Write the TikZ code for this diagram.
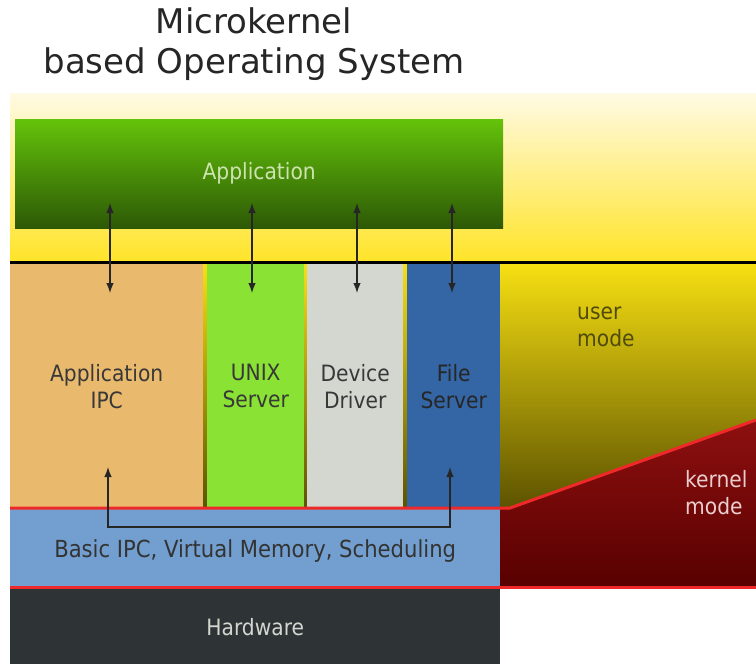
\documentclass[tikz,border=0pt]{standalone}
\usepackage{fontspec}
\setmainfont{DejaVu Sans}
\newfontfamily\cond{DejaVu Sans Condensed}
\usetikzlibrary{arrows.meta}
\definecolor{tan}{HTML}{E9B96E}
\definecolor{lgreen}{HTML}{8AE234}
\definecolor{lgray}{HTML}{D3D7CF}
\definecolor{fblue}{HTML}{3465A4}
\definecolor{kblue}{HTML}{729FCF}
\definecolor{hw}{HTML}{2E3436}
\definecolor{redline}{HTML}{EF2929}
\definecolor{pale}{RGB}{255,250,228}
\definecolor{yel}{RGB}{255,228,40}
\definecolor{yel2}{RGB}{247,224,18}
\definecolor{olive}{RGB}{92,82,0}
\definecolor{kred1}{RGB}{142,16,16}
\definecolor{kred2}{RGB}{88,0,0}
\definecolor{appg1}{RGB}{100,195,10}
\definecolor{appg2}{RGB}{45,88,6}
\begin{document}
\begin{tikzpicture}[x=1pt,y=-1pt,
  lbl/.style={font=\cond\fontsize{22.5}{27}\selectfont,align=center,text=black!78},
  col/.style={draw=none,anchor=north west,minimum height=244,inner sep=0pt,lbl},
  arr/.style={{Latex[length=10pt,width=7.5pt]}-{Latex[length=10pt,width=7.5pt]},line width=1.3pt,draw=black!85},
  redl/.style={draw=redline,line width=3pt}]
\useasboundingbox (0,0) rectangle (756,664);
% title
\node[font=\fontsize{34}{40}\selectfont,align=center,text=black!85] (title) at (254,44) {Microkernel\\based Operating System};
% backgrounds
\fill[top color=pale,bottom color=yel] (10,93) rectangle (756,262);
\fill[top color=yel2,bottom color=olive] (10,263) rectangle (756,509);
\fill[top color=kred1,bottom color=kred2] (500,508) -- (510,508) -- (756,420) -- (756,587) -- (500,587) -- cycle;
% application box
\node[anchor=north west,minimum width=488,minimum height=109,inner sep=0pt,top color=appg1,bottom color=appg2,
  font=\cond\fontsize{22.5}{27}\selectfont,text={rgb,255:red,205;green,228;blue,175}] (app) at (15,119) {\raisebox{3pt}{Application}};
% separator line
\draw[line width=3pt,black] (10,262) -- (756,262);
% columns
\node[col,fill=tan,minimum width=193] (ipc) at (10,264) {Application\\IPC};
\node[col,fill=lgreen,minimum width=97] (unix) at (207,264) {UNIX\\Server};
\node[col,fill=lgray,minimum width=96] (dev) at (307,264) {Device\\Driver};
\node[col,fill=fblue,minimum width=93,text=black!85] (fs) at (407,264) {File\\Server};
% kernel box
\node[anchor=north west,fill=kblue,minimum width=490,minimum height=78,inner sep=0pt,
  font=\cond\fontsize{23.5}{27}\selectfont,text=black!80] (kern) at (10,509) {\raisebox{-24pt}{Basic IPC, Virtual Memory, Scheduling}};
% hardware
\node[anchor=north west,fill=hw,minimum width=490,minimum height=75,inner sep=0pt,lbl,text=lgray] (hwn) at (10,589) {Hardware};
% red lines
\draw[redl] (10,508) -- (510,508) -- (756,420);
\draw[redl] (10,587) -- (756,587);
% mode labels
\node[lbl,anchor=north west,align=left,text={rgb,255:red,80;green,75;blue,10},inner sep=0pt] (user) at (577,307) {user\\mode};
\node[lbl,anchor=north west,align=left,text={rgb,255:red,235;green,205;blue,205},inner sep=0pt] (kmode) at (685,470) {kernel\\mode};
% arrows
\foreach \n/\x in {1/110,2/252,3/357,4/452}{
  \coordinate (t\n) at (\x,203);
  \coordinate (b\n) at (\x,293);
  \draw[arr] (t\n) -- (b\n);
}
\coordinate (l1) at (108,467);
\coordinate (l2) at (450,467);
\draw[arr] (l1) -- (l1 |- 0,527) -- (l2 |- 0,527) -- (l2);
\end{tikzpicture}
\end{document}
